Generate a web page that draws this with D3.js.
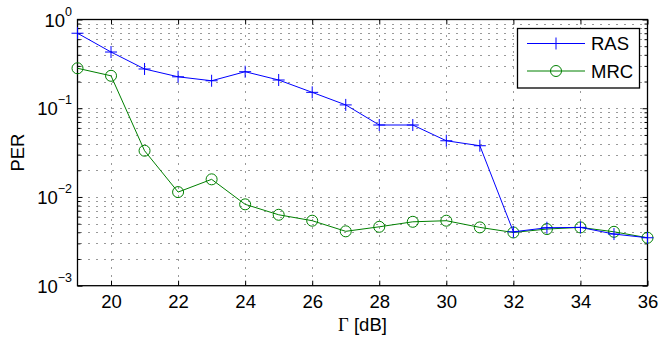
<!DOCTYPE html>
<html>
<head>
<meta charset="utf-8">
<script src="https://d3js.org/d3.v7.min.js"></script>
<style>
  body { margin: 0; background: #fff; }
  text { font-family: "Liberation Sans", Arial, sans-serif; }
</style>
</head>
<body>
<svg width="661" height="338"></svg>
<script>
// data
var gammaDb = [19, 20, 21, 22, 23, 24, 25, 26, 27, 28, 29, 30, 31, 32, 33, 34, 35, 36];
var rasPer = [0.70, 0.43, 0.277, 0.226, 0.204, 0.258, 0.208, 0.151, 0.109, 0.0647, 0.0647, 0.043, 0.0378,
  0.00405, 0.0045, 0.00454, 0.00382, 0.00347];
var mrcPer = [0.282, 0.232, 0.0332, 0.01135, 0.0158, 0.00826, 0.0063, 0.0054, 0.0041, 0.00461, 0.00525,
  0.0054, 0.00454, 0.00398, 0.00435, 0.00454, 0.00405, 0.00347];
var xTicks = [20, 22, 24, 26, 28, 30, 32, 34, 36];
var yDecades = [-3, -2, -1, 0];
var seriesNames = ["RAS", "MRC"];

var svg = d3.select("svg");
var pL = 77.5, pR = 647.5, pT = 19.5, pB = 285.7;
var fs = 18.5;

var x = d3.scaleLinear().domain([19, 36]).range([pL, pR]);
var y = d3.scaleLog().domain([1e-3, 1]).range([pB, pT]);

// minor values 2..9 per decade
var minors = [];
yDecades.slice(0, 3).forEach(function (e) {
  for (var k = 2; k <= 9; k++) minors.push(k * Math.pow(10, e));
});
var majors = yDecades.map(function (e) { return Math.pow(10, e); });

// grid
var grid = svg.append("g")
  .attr("stroke", "#333")
  .attr("stroke-width", 1)
  .attr("stroke-dasharray", "1,7");
grid.selectAll("line.h")
  .data(minors.concat(majors.slice(1, 3)))
  .enter().append("line")
  .attr("x1", pL + 3).attr("x2", pR)
  .attr("y1", function (d) { return Math.round(y(d)) + 0.5; })
  .attr("y2", function (d) { return Math.round(y(d)) + 0.5; });
grid.selectAll("line.v")
  .data(xTicks.slice(0, -1))
  .enter().append("line")
  .attr("y1", pT).attr("y2", pB)
  .attr("x1", function (d) { return Math.round(x(d)) + 0.5; })
  .attr("x2", function (d) { return Math.round(x(d)) + 0.5; });

// axes with ticks pointing inward
var xAxisB = d3.axisBottom(x).tickValues(xTicks).tickSizeInner(-5).tickSizeOuter(0).tickPadding(9);
var xAxisT = d3.axisTop(x).tickValues(xTicks).tickSizeInner(-5).tickSizeOuter(0).tickFormat("");
var yAxisL = d3.axisLeft(y).tickValues(majors).tickSizeInner(-5).tickSizeOuter(0).tickFormat("");
var yAxisR = d3.axisRight(y).tickValues(majors).tickSizeInner(-5).tickSizeOuter(0).tickFormat("");
var yMinL = d3.axisLeft(y).tickValues(minors).tickSizeInner(-3).tickSizeOuter(0).tickFormat("");
var yMinR = d3.axisRight(y).tickValues(minors).tickSizeInner(-3).tickSizeOuter(0).tickFormat("");

var gX = svg.append("g").attr("transform", "translate(0," + pB + ")").call(xAxisB);
svg.append("g").attr("transform", "translate(0," + pT + ")").call(xAxisT);
svg.append("g").attr("transform", "translate(" + pL + ",0)").call(yAxisL);
svg.append("g").attr("transform", "translate(" + pR + ",0)").call(yAxisR);
svg.append("g").attr("transform", "translate(" + pL + ",0)").call(yMinL);
svg.append("g").attr("transform", "translate(" + pR + ",0)").call(yMinR);
svg.selectAll(".domain").remove();
svg.selectAll(".tick line").attr("stroke", "#000");
gX.selectAll("text").attr("font-size", fs).attr("fill", "#000")
  .attr("font-family", "Liberation Sans, Arial, sans-serif");

// box
svg.append("rect")
  .attr("x", pL).attr("y", pT)
  .attr("width", pR - pL).attr("height", pB - pT)
  .attr("fill", "none").attr("stroke", "#000").attr("stroke-width", 1.3);

// y labels 10^e
var yLab = svg.append("g").selectAll("text")
  .data(yDecades)
  .enter().append("text")
  .attr("x", 72)
  .attr("y", function (d) { return y(Math.pow(10, d)) + 7; })
  .attr("text-anchor", "end")
  .attr("font-size", fs);
yLab.append("tspan").text("10");
yLab.append("tspan")
  .attr("dy", -11)
  .attr("font-size", 12.5)
  .text(function (d) { return d < 0 ? "\u2212" + (-d) : String(d); });

// series lines
var line = d3.line()
  .x(function (d, i) { return x(gammaDb[i]); })
  .y(function (d) { return y(d); });

svg.append("path").datum(mrcPer)
  .attr("fill", "none").attr("stroke", "#008000").attr("stroke-width", 1)
  .attr("d", line);
svg.append("g").selectAll("circle")
  .data(mrcPer)
  .enter().append("circle")
  .attr("cx", function (d, i) { return x(gammaDb[i]); })
  .attr("cy", function (d) { return y(d); })
  .attr("r", 5.5)
  .attr("fill", "none").attr("stroke", "#008000").attr("stroke-width", 1);

svg.append("path").datum(rasPer)
  .attr("fill", "none").attr("stroke", "#0000ff").attr("stroke-width", 1)
  .attr("d", line);
svg.append("g").selectAll("path")
  .data(rasPer)
  .enter().append("path")
  .attr("d", function (d, i) {
    var cx = x(gammaDb[i]), cy = y(d);
    return "M" + (cx - 6) + "," + cy + "H" + (cx + 6) + "M" + cx + "," + (cy - 6) + "V" + (cy + 6);
  })
  .attr("fill", "none").attr("stroke", "#0000ff").attr("stroke-width", 1);

// axis titles
var xt = svg.append("text")
  .attr("x", (pL + pR) / 2).attr("y", 331)
  .attr("text-anchor", "middle").attr("font-size", fs);
xt.append("tspan").attr("font-family", "Liberation Serif, serif").text("\u0393");
xt.append("tspan").text(" [dB]");

svg.append("text")
  .attr("transform", "translate(24," + ((pT + pB) / 2) + ") rotate(-90)")
  .attr("text-anchor", "middle").attr("font-size", fs)
  .text("PER");

// legend
var lg = svg.append("g");
lg.append("rect")
  .attr("x", 517.5).attr("y", 28.5).attr("width", 122).attr("height", 59.5)
  .attr("fill", "#fff").attr("stroke", "#000").attr("stroke-width", 1.3);
var rows = lg.selectAll("g.row")
  .data(seriesNames)
  .enter().append("g")
  .attr("transform", function (d, i) { return "translate(0," + (43.5 + i * 27.5) + ")"; });
rows.append("line")
  .attr("x1", 527).attr("x2", 585)
  .attr("stroke", function (d, i) { return i === 0 ? "#0000ff" : "#008000"; })
  .attr("stroke-width", 1);
rows.filter(function (d, i) { return i === 0; }).append("path")
  .attr("d", "M550,0H562M556,-6V6")
  .attr("stroke", "#0000ff").attr("fill", "none");
rows.filter(function (d, i) { return i === 1; }).append("circle")
  .attr("cx", 556).attr("r", 5.5)
  .attr("stroke", "#008000").attr("fill", "none");
rows.append("text")
  .attr("x", 591).attr("y", 6.5)
  .attr("font-size", fs)
  .text(function (d) { return d; });
</script>
</body>
</html>
